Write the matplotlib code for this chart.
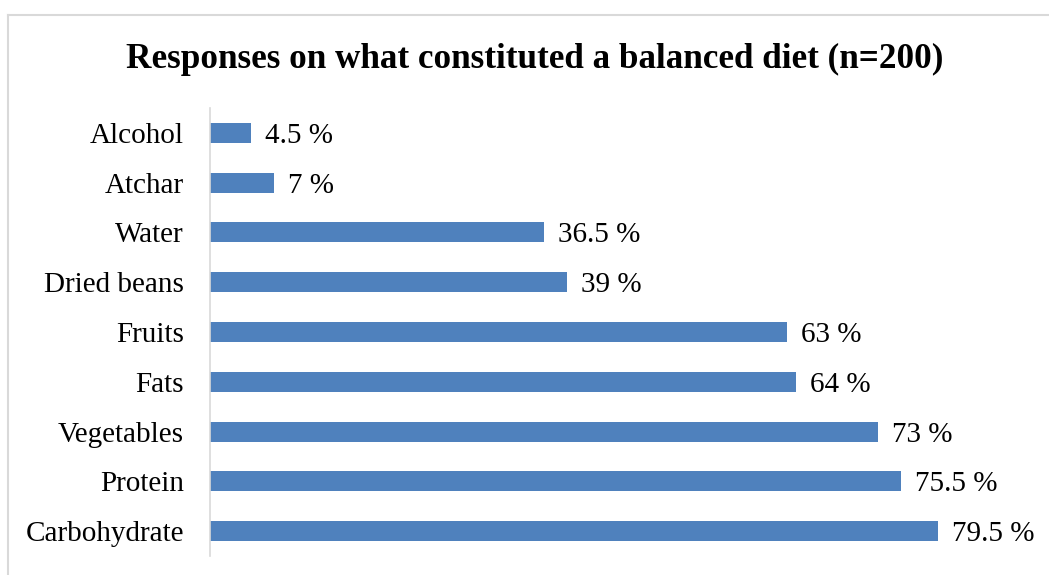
import matplotlib
matplotlib.use("Agg")
import matplotlib.pyplot as plt
from matplotlib.lines import Line2D

categories = ["Alcohol", "Atchar", "Water", "Dried beans", "Fruits", "Fats",
              "Vegetables", "Protein", "Carbohydrate"]
values = [4.5, 7, 36.5, 39, 63, 64, 73, 75.5, 79.5]
value_labels = ["4.5 %", "7 %", "36.5 %", "39 %", "63 %", "64 %", "73 %", "75.5 %", "79.5 %"]
title = "Responses on what constituted a balanced diet (n=200)"

plt.rcParams['font.family'] = ['Liberation Serif', 'DejaVu Serif']

W, H = 1049, 575
fig = plt.figure(figsize=(W / 100, H / 100), dpi=100)
ax = fig.add_axes([210 / W, 1 - 556 / H, (1034 - 210) / W, (556 - 108) / H])

y = list(range(len(categories)))
ax.barh(y, values, height=0.4, color="#4F81BD")
ax.set_ylim(len(categories) - 0.5, -0.5)
ax.set_xlim(0, 90)
ax.set_yticks(y)
ax.set_yticklabels(categories, fontsize=21)
ax.tick_params(axis='y', length=0, pad=18.7)
ax.set_xticks([])
for s in ["top", "right", "bottom"]:
    ax.spines[s].set_visible(False)
ax.spines["left"].set_color("#D9D9D9")
ax.spines["left"].set_linewidth(1.2)

for yi, v, lab in zip(y, values, value_labels):
    ax.annotate(lab, xy=(v, yi), xytext=(14, -3), textcoords="offset pixels",
                va="center", ha="left", fontsize=21)

fig.text(0.5 * (126 + 943) / W, 1 - 59 / H, title, ha="center", va="center",
         fontsize=25.3, fontweight="bold")

# chart border (top and left visible)
fig.add_artist(Line2D([7.5 / W, 1.0], [1 - 14.5 / H, 1 - 14.5 / H], color="#D9D9D9", lw=1.5,
                      transform=fig.transFigure))
fig.add_artist(Line2D([7.5 / W, 7.5 / W], [0, 1 - 14.5 / H], color="#D9D9D9", lw=1.5,
                      transform=fig.transFigure))

fig.savefig("out.png", dpi=100)
